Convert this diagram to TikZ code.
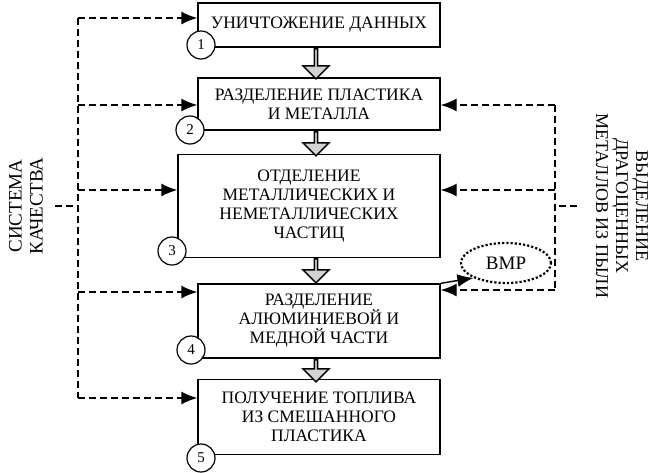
\documentclass[tikz,border=0pt]{standalone}
\usepackage{fontspec}
\setmainfont{Liberation Serif}
\usetikzlibrary{positioning,shapes.arrows,shapes.geometric,arrows.meta}

\tikzset{
  stage/.style={draw, line width=1.4pt, align=center, font=\fontsize{17.5}{19}\selectfont, inner sep=2pt},
  num/.style={draw, circle, line width=1.2pt, fill=white, minimum size=28pt, inner sep=0pt, font=\fontsize{15}{17}\selectfont},
  flow/.style={single arrow, draw, line width=1.4pt, fill=gray!35, shape border rotate=270,
    minimum height=30pt, minimum width=26pt, single arrow head extend=5pt, inner sep=0pt},
  feed/.style={line width=1.4pt, dashed, dash pattern=on 7pt off 4pt, -{Latex[length=16pt,width=13pt]}},
  link/.style={line width=1.4pt, dashed, dash pattern=on 7pt off 4pt},
}

\begin{document}
\begin{tikzpicture}[x=1pt,y=-1pt]
  \useasboundingbox (0,0) rectangle (660,472);

  % stages
  \node[stage, minimum width=242pt, minimum height=44pt] (b1) at (319,25) {УНИЧТОЖЕНИЕ ДАННЫХ};
  \node[stage, minimum width=242pt, minimum height=52pt] (b2) at (319,104) {РАЗДЕЛЕНИЕ ПЛАСТИКА\\И МЕТАЛЛА};
  \node[stage, minimum width=262pt, minimum height=103pt] (b3) at (309,206) {ОТДЕЛЕНИЕ\\МЕТАЛЛИЧЕСКИХ И\\НЕМЕТАЛЛИЧЕСКИХ\\ЧАСТИЦ};
  \node[stage, minimum width=242pt, minimum height=74pt] (b4) at (319,321) {РАЗДЕЛЕНИЕ\\АЛЮМИНИЕВОЙ И\\МЕДНОЙ ЧАСТИ};
  \node[stage, minimum width=242pt, minimum height=75pt] (b5) at (319,417) {ПОЛУЧЕНИЕ ТОПЛИВА\\ИЗ СМЕШАННОГО\\ПЛАСТИКА};

  \node[num] (n1) at (201,45) {1};
  \node[num] (n2) at (190,130) {2};
  \node[num] (n3) at (172,251) {3};
  \node[num] (n4) at (191,350) {4};
  \node[num] (n5) at (201,458) {5};

  % flow between stages
  \node[flow, minimum height=30pt] at (316,63) {};
  \node[flow, minimum height=24pt] at (316,143) {};
  \node[flow, minimum height=24pt] at (316,270) {};
  \node[flow, minimum height=22pt] at (316,370) {};

  % quality system
  \node[rotate=90, align=center, font=\fontsize{19}{21}\selectfont] (qs) at (26,206) {СИСТЕМА\\КАЧЕСТВА};
  \coordinate (q0) at (55,206);
  \coordinate (q1) at (78,18);
  \coordinate (q2) at (78,105);
  \coordinate (q3) at (78,190);
  \coordinate (q4) at (78,292);
  \coordinate (q5) at (78,398);
  \draw[link] (q1) -- (q5);
  \draw[link] (q0) -- (78,206);
  \draw[feed] (q1) -- (b1.west |- q1);
  \draw[feed] (q2) -- (b2.west |- q2);
  \draw[feed] (q3) -- (b3.west |- q3);
  \draw[feed] (q4) -- (b4.west |- q4);
  \draw[feed] (q5) -- (b5.west |- q5);

  % dust recovery
  \node[rotate=-90, align=center, font=\fontsize{18}{20}\selectfont] (dm) at (622,206) {ВЫДЕЛЕНИЕ\\ДРАГОЦЕННЫХ\\МЕТАЛЛОВ ИЗ ПЫЛИ};
  \coordinate (d0) at (577,206);
  \coordinate (d2) at (555,105);
  \coordinate (d3) at (555,190);
  \coordinate (d4) at (555,290);
  \draw[link] (d2) -- (d4);
  \draw[link] (d0) -- (555,206);
  \draw[feed] (d2) -- (b2.east |- d2);
  \draw[feed] (d3) -- (b3.east |- d3);
  \draw[feed] (d4) -- (b4.east |- d4);

  % BMP
  \node[draw, ellipse, line width=2.2pt, dotted, minimum width=90pt, minimum height=40pt, inner sep=0pt,
    font=\fontsize{19}{21}\selectfont] (bmp) at (506,263) {ВМР};
  \draw[line width=1.4pt, -{Latex[length=16pt,width=13pt]}] (b4.north east) -- (bmp.south west);
\end{tikzpicture}
\end{document}
